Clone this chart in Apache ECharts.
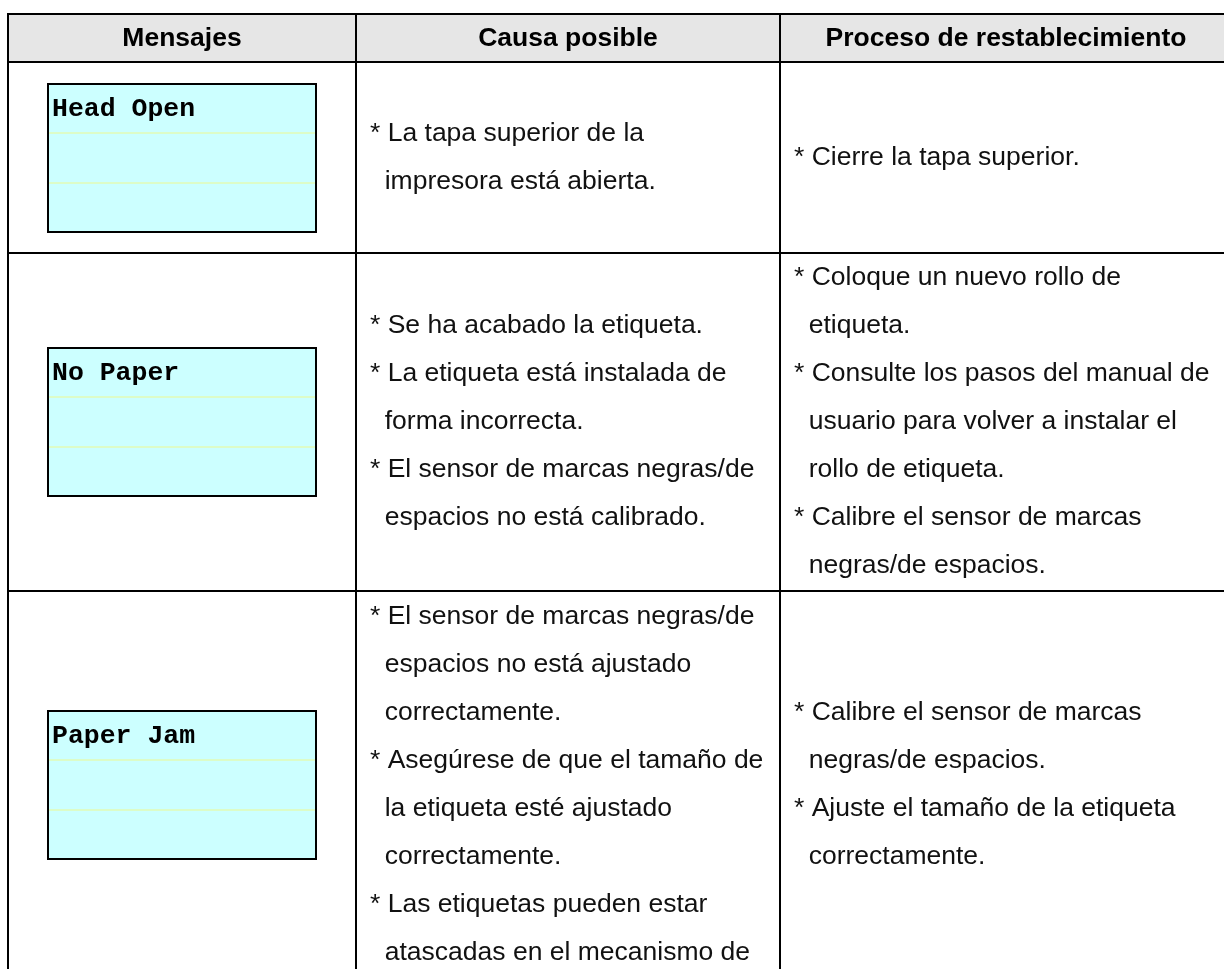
<!DOCTYPE html>
<html>
<head>
<meta charset="utf-8">
<script src="https://cdn.jsdelivr.net/npm/echarts@6/dist/echarts.min.js"></script>
<style>
html,body{margin:0;padding:0;background:#fff;}
#chart{width:1224px;height:969px;}
</style>
</head>
<body>
<div id="chart"></div>
<script>
// ---- content ----
const headers = ['Mensajes', 'Causa posible', 'Proceso de restablecimiento'];
const messages = ['Head Open', 'No Paper', 'Paper Jam'];
const causes = [
  ['* La tapa superior de la', '  impresora está abierta.'],
  ['* Se ha acabado la etiqueta.', '* La etiqueta está instalada de', '  forma incorrecta.',
   '* El sensor de marcas negras/de', '  espacios no está calibrado.'],
  ['* El sensor de marcas negras/de', '  espacios no está ajustado', '  correctamente.',
   '* Asegúrese de que el tamaño de', '  la etiqueta esté ajustado', '  correctamente.',
   '* Las etiquetas pueden estar', '  atascadas en el mecanismo de']
];
const remedies = [
  ['* Cierre la tapa superior.'],
  ['* Coloque un nuevo rollo de', '  etiqueta.', '* Consulte los pasos del manual de',
   '  usuario para volver a instalar el', '  rollo de etiqueta.', '* Calibre el sensor de marcas',
   '  negras/de espacios.'],
  ['* Calibre el sensor de marcas', '  negras/de espacios.', '* Ajuste el tamaño de la etiqueta',
   '  correctamente.']
];

// ---- layout (axis units) ----
const colEdges = [8, 356, 780, 1232];
const rowEdges = [14, 62, 253, 591, 979];
const layout = {
  padX: 14, lineH: 48, fontSize: 26.5,
  boxOffset: 40, boxW: 268, boxH: 148
};

const cellData = [];
for (let r = 0; r < rowEdges.length - 1; r++) {
  for (let c = 0; c < colEdges.length - 1; c++) cellData.push([c, r]);
}

const SANS = '"Liberation Sans", Arial, sans-serif';
const MONO = '"Liberation Mono", "Courier New", monospace';

function renderCell(params, api) {
  const c = api.value(0), r = api.value(1);
  const p0 = api.coord([colEdges[c], rowEdges[r]]);
  const p1 = api.coord([colEdges[c + 1], rowEdges[r + 1]]);
  const x = p0[0], y = p0[1], w = p1[0] - p0[0], h = p1[1] - p0[1];
  const children = [{
    type: 'rect',
    shape: { x: x, y: y, width: w, height: h },
    style: { fill: r === 0 ? '#e6e6e6' : '#ffffff', stroke: '#000', lineWidth: 2 }
  }];
  const fs = layout.fontSize;
  if (r === 0) {
    children.push({
      type: 'text',
      style: { text: headers[c], x: x + w / 2, y: y + h / 2 + 1, fill: '#000',
        font: 'bold ' + fs + 'px ' + SANS, align: 'center', verticalAlign: 'middle',
        textAlign: 'center', textVerticalAlign: 'middle' }
    });
  } else if (c === 0) {
    const bx = x + layout.boxOffset, by = Math.round(y + (h - layout.boxH) / 2);
    const sub = layout.boxH / 3;
    children.push({
      type: 'rect', shape: { x: bx, y: by, width: layout.boxW, height: layout.boxH },
      style: { fill: '#ccffff', stroke: '#000', lineWidth: 2 }
    });
    for (let k = 1; k < 3; k++) {
      const ly = Math.round(by + sub * k);
      children.push({
        type: 'line', shape: { x1: bx + 1, y1: ly, x2: bx + layout.boxW - 1, y2: ly },
        style: { stroke: '#dcfcc8', lineWidth: 2 }
      });
    }
    children.push({
      type: 'text',
      style: { text: messages[r - 1], x: bx + 4, y: by + sub / 2 + 1, fill: '#000',
        font: 'bold ' + fs + 'px ' + MONO, align: 'left', verticalAlign: 'middle',
        textAlign: 'left', textVerticalAlign: 'middle' }
    });
  } else {
    const lines = (c === 1 ? causes : remedies)[r - 1];
    const n = lines.length;
    const cy = y + h / 2;
    lines.forEach(function (t, i) {
      children.push({
        type: 'text',
        style: { text: t, x: x + layout.padX, y: cy + (i - (n - 1) / 2) * layout.lineH, fill: '#111',
          font: fs + 'px ' + SANS, align: 'left', verticalAlign: 'middle',
          textAlign: 'left', textVerticalAlign: 'middle' }
      });
    });
  }
  return { type: 'group', children: children };
}

const chart = echarts.init(document.getElementById('chart'), null, { renderer: 'canvas' });
chart.setOption({
  animation: false,
  backgroundColor: '#ffffff',
  grid: { left: 0, right: 0, top: 0, bottom: 0 },
  xAxis: { type: 'value', min: 0, max: 1224, show: false },
  yAxis: { type: 'value', min: 0, max: 969, inverse: true, show: false },
  series: [{
    type: 'custom',
    coordinateSystem: 'cartesian2d',
    clip: false,
    silent: true,
    data: cellData,
    renderItem: renderCell
  }]
});
</script>
</body>
</html>
